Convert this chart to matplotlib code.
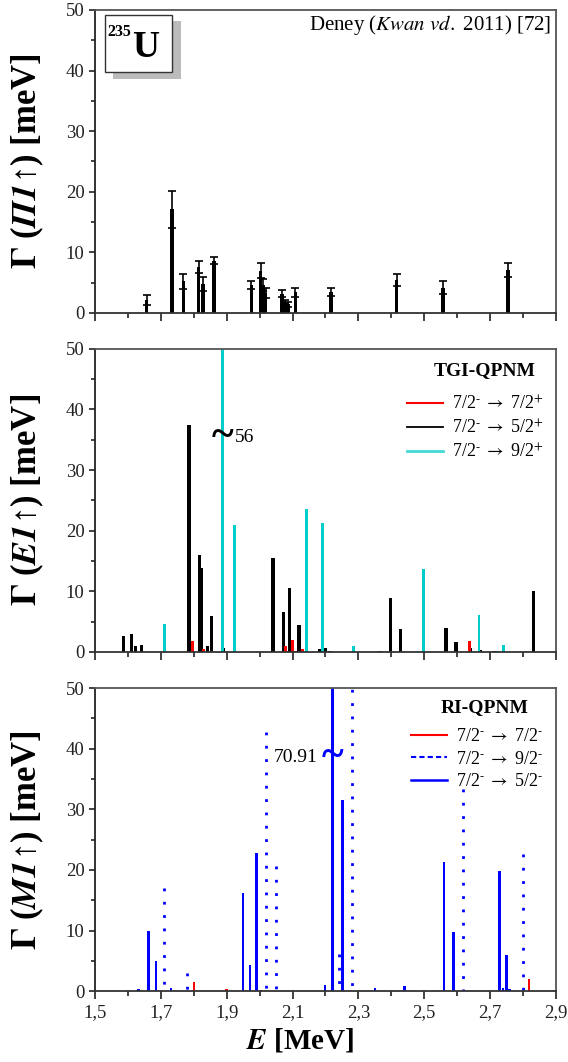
import matplotlib
matplotlib.use("Agg")
import matplotlib.pyplot as plt
from matplotlib.lines import Line2D
from matplotlib.patches import Rectangle

plt.rcParams['font.family'] = ['Liberation Serif', 'DejaVu Serif']
plt.rcParams['mathtext.fontset'] = 'stix'

# ---- experiment (Kwan et al. 2011): E [MeV], Gamma [meV], error ----
exp_E = [1.657, 1.735, 1.769, 1.815, 1.829, 1.862, 1.975, 2.003, 2.010, 2.018,
         2.068, 2.078, 2.087, 2.109, 2.217, 2.416, 2.556, 2.755]
exp_G = [2.1, 17.1, 5.2, 7.6, 4.75, 8.6, 4.6, 7.0, 4.6, 3.3,
         3.2, 1.8, 1.4, 3.4, 3.5, 5.4, 4.2, 7.1]
exp_dG = [0.8, 3.1, 1.2, 1.0, 1.15, 0.6, 0.6, 1.2, 1.0, 0.9,
          0.6, 0.4, 0.4, 0.8, 0.7, 0.95, 1.0, 1.15]

# ---- TGI-QPNM, E1 ----
e1_72_E = [1.797, 1.829, 2.079, 2.101, 2.110, 2.131, 2.637]
e1_72_G = [1.8, 0.45, 0.9, 2.0, 0.2, 0.5, 1.8]
e1_52_E = [1.586, 1.612, 1.624, 1.642, 1.786, 1.817, 1.824, 1.841, 1.853, 1.891,
           2.041, 2.072, 2.090, 2.120, 2.183, 2.199, 2.214, 2.366, 2.398, 2.428,
           2.566, 2.596, 2.641, 2.671, 2.715, 2.831]
e1_52_G = [2.6, 3.0, 0.9, 1.2, 37.5, 16.05, 13.9, 1.0, 5.9, 0.7,
           15.55, 6.65, 10.55, 4.45, 0.5, 0.6, 0.2, 0.2, 8.9, 3.8,
           4.0, 1.65, 0.65, 0.3, 0.15, 10.0]
e1_92_E = [1.712, 1.888, 1.923, 2.142, 2.191, 2.284, 2.498, 2.666, 2.740]
e1_92_G = [4.55, 56.0, 21.0, 23.6, 21.2, 0.9, 13.7, 6.1, 1.05]

# ---- RI-QPNM, M1 ----
m1_72_E = [1.801, 1.900, 2.004, 2.818, 2.895]
m1_72_G = [1.5, 0.3, 0.2, 2.0, 0.2]
m1_92_E = [1.710, 1.780, 2.020, 2.051, 2.240, 2.280, 2.619, 2.800]
m1_92_G = [17.0, 3.0, 42.7, 20.6, 6.2, 52.0, 33.3, 22.7]
m1_52_E = [1.632, 1.662, 1.686, 1.731, 1.950, 1.971, 1.990, 2.199, 2.221, 2.251,
           2.350, 2.439, 2.560, 2.589, 2.729, 2.739, 2.749, 2.759]
m1_52_G = [0.3, 10.0, 4.95, 0.5, 16.25, 4.35, 22.8, 1.05, 70.91, 31.6,
           0.5, 0.8, 21.3, 9.8, 19.9, 0.6, 6.0, 0.4]

x_major = [1.5, 1.7, 1.9, 2.1, 2.3, 2.5, 2.7, 2.9]
x_minor = [1.6, 1.8, 2.0, 2.2, 2.4, 2.6, 2.8]
y_major = [0, 10, 20, 30, 40, 50]
y_minor = [5, 15, 25, 35, 45]

RED, BLACK, CYAN, BLUE = '#ff0000', '#000000', '#00cccc', '#0000ff'


def style_axes(ax, labels=True):
    ax.set_xlim(1.5, 2.9)
    ax.set_ylim(0, 50)
    ax.set_xticks(x_major)
    ax.set_xticks(x_minor, minor=True)
    ax.set_yticks(y_major)
    ax.set_yticks(y_minor, minor=True)
    if labels:
        ax.set_xticklabels([f"{v:.1f}".replace('.', ',') for v in x_major])
    else:
        ax.set_xticklabels([])
    ax.tick_params(axis='both', which='both', direction='out', width=1.2,
                   labelsize=13.5, colors='#222222')
    ax.tick_params(axis='x', which='major', length=5.5)
    ax.tick_params(axis='x', which='minor', length=3.5)
    ax.tick_params(axis='y', which='major', length=4)
    ax.tick_params(axis='y', which='minor', length=3)
    for s in ax.spines.values():
        s.set_color('#555555')
        s.set_linewidth(1.3)
    ax.spines['left'].set_color('#222222')
    ax.spines['bottom'].set_color('#333333')


def ylabel(ax, part):
    ax.set_ylabel(r'$\mathbf{\Gamma}$ ($\mathbfit{' + part + r'}$↑) [meV]',
                  fontsize=25, fontweight='bold')
    ax.yaxis.set_label_coords(-0.105, 0.5)


def transition(j_to, parity):
    # e.g. 7/2- -> 5/2+, hyphen-style superscript for negative parity
    sup = '‐' if parity == '-' else '+'
    return r'7/2$^{‐}\;\rightarrow$ ' + j_to + r'$^{' + sup + r'}$'


def model_legend(ax, title, handles, labels, y_title, y_rows):
    ax.text(0.845, y_title, title, transform=ax.transAxes, ha='center', va='center',
            fontsize=14, fontweight='bold')
    ax.legend(handles, labels, loc='upper right', bbox_to_anchor=(1.0, y_rows),
              frameon=False, fontsize=13, handlelength=2.0, handletextpad=0.5,
              labelspacing=0.3, borderaxespad=0.3)


fig = plt.figure(figsize=(5.68, 10.62), dpi=100)
ax1 = fig.add_axes([0.167, 0.7053, 0.812, 0.2853])
ax2 = fig.add_axes([0.167, 0.3862, 0.812, 0.2853])
ax3 = fig.add_axes([0.167, 0.0667, 0.812, 0.2853])

# ---- top: experiment ----
ax1.bar(exp_E, exp_G, width=0.011, color=BLACK, linewidth=0)
ax1.errorbar(exp_E, exp_G, yerr=exp_dG, fmt='none', ecolor=BLACK,
             elinewidth=1.2, capsize=3, capthick=1.2)
style_axes(ax1, labels=False)
ylabel(ax1, 'Π1')
ax1.text(0.99, 0.99, r'Deney ($\mathit{Kwan\ vd.}$ 2011) [72]', transform=ax1.transAxes,
         ha='right', va='top', fontsize=15)
# nucleus label with drop shadow
ax1.add_patch(Rectangle((0.040, 0.772), 0.146, 0.19, transform=ax1.transAxes,
                        facecolor='#bbbbbb', edgecolor='none', zorder=5))
ax1.add_patch(Rectangle((0.022, 0.795), 0.146, 0.19, transform=ax1.transAxes,
                        facecolor='white', edgecolor='#333333', linewidth=1.0, zorder=6))
ax1.text(0.028, 0.955, '235', transform=ax1.transAxes, ha='left', va='top',
         fontsize=11.5, fontweight='bold', zorder=7)
ax1.text(0.080, 0.82, 'U', transform=ax1.transAxes, ha='left', va='bottom',
         fontsize=27, fontweight='bold', zorder=7)

# ---- middle: E1 ----
ax2.bar(e1_52_E, e1_52_G, width=0.010, color=BLACK, linewidth=0)
ax2.bar(e1_92_E, e1_92_G, width=0.009, color=CYAN, linewidth=0)
ax2.bar(e1_72_E, e1_72_G, width=0.009, color=RED, linewidth=0)
style_axes(ax2, labels=False)
ylabel(ax2, 'E1')
ax2.text(e1_92_E[1], 35.4, '~', ha='center', va='center', fontsize=30,
         fontweight='bold', color=BLACK)
ax2.text(1.926, 35.4, f"{e1_92_G[1]:.0f}", ha='left', va='center', fontsize=14)
h2 = [Line2D([], [], color=RED, lw=1.5), Line2D([], [], color=BLACK, lw=1.3),
      Line2D([], [], color='#44d8d8', lw=2)]
l2 = [transition('7/2', '+'), transition('5/2', '+'), transition('9/2', '+')]
model_legend(ax2, 'TGI-QPNM', h2, l2, 0.927, 0.89)

# ---- bottom: M1 ----
ax3.vlines(m1_92_E, m1_92_G, 0, colors=BLUE, linewidth=2.0,
           linestyles=(0, (1, 3.8)))
ax3.bar(m1_52_E, m1_52_G, width=0.008, color=BLUE, linewidth=0)
ax3.bar(m1_72_E, m1_72_G, width=0.008, color=RED, linewidth=0)
style_axes(ax3, labels=True)
ylabel(ax3, 'M1')
ax3.set_xlabel(r'$\mathbfit{E}$ [MeV]', fontsize=21, fontweight='bold')
ax3.xaxis.set_label_coords(0.445, -0.118)
ax3.text(m1_52_E[8], 38.6, '~', ha='center', va='center', fontsize=30,
         fontweight='bold', color=BLUE)
ax3.text(2.177, 38.6, f"{m1_52_G[8]:.2f}", ha='right', va='center', fontsize=14)
h3 = [Line2D([], [], color=RED, lw=1.5), Line2D([], [], color=BLUE, lw=1.5, ls=(0, (2.5, 1.5))),
      Line2D([], [], color=BLUE, lw=1.8)]
l3 = [transition('7/2', '-'), transition('9/2', '-'), transition('5/2', '-')]
model_legend(ax3, 'RI-QPNM', h3, l3, 0.935, 0.91)

fig.savefig('out.png', dpi=100)
